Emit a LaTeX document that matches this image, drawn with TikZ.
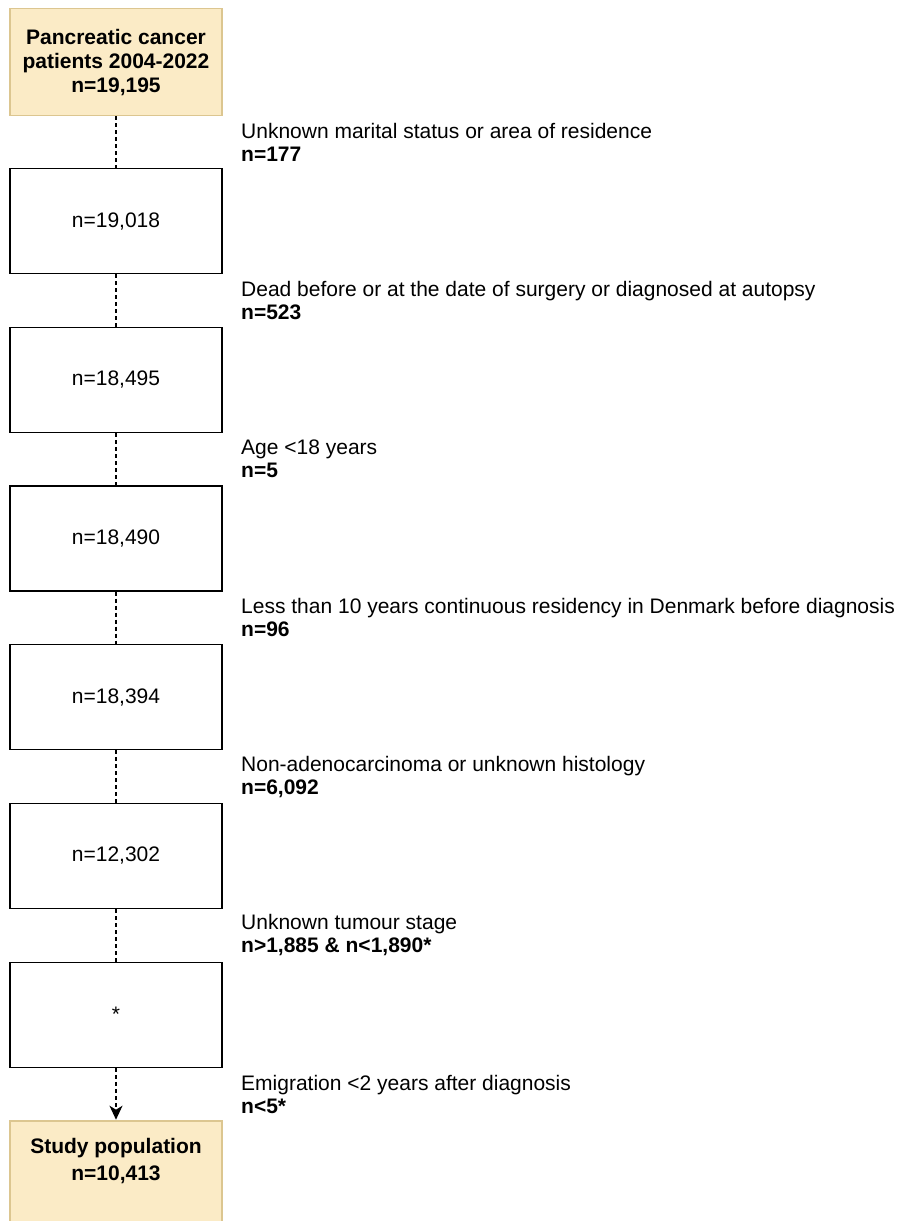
\documentclass[tikz,border=0pt]{standalone}
\usepackage{fontspec}
\setmainfont{Liberation Sans}
\usetikzlibrary{calc,arrows,arrows.meta,positioning}

\definecolor{popfill}{HTML}{FBEBC6}
\definecolor{popdraw}{HTML}{DCC690}

\begin{document}
\begin{tikzpicture}[x=1pt,y=-1pt]

  % Parameters
  \def\wstage{212pt}
  \def\hstage{105pt}
  \def\pitch{158.7}
  \def\xtext{125}

  % Styles
  \tikzstyle{stage}=[draw,line width=1.3pt,anchor=north,minimum width=\wstage,minimum height=\hstage,inner sep=0pt,align=center,font=\fontsize{21}{24}\selectfont]
  \tikzstyle{cohort}=[stage,draw=popdraw,fill=popfill,minimum height=107pt,font=\fontsize{21}{24}\selectfont\bfseries]
  \tikzstyle{excl}=[anchor=west,align=left,inner sep=0pt,font=\fontsize{21}{23}\selectfont]
  \tikzstyle{link}=[line width=1.3pt,dash pattern=on 4pt off 3pt]

  \useasboundingbox (0,0) rectangle (902,1221);

  % Cohort boxes
  \node[cohort] (s0) at (116,8) {Pancreatic cancer\\patients 2004-2022\\n=19,195};
  \node[stage] (s1) at (116,168) {n=19,018};
  \node[stage] (s2) at (116,168+\pitch) {n=18,495};
  \node[stage] (s3) at (116,168+2*\pitch) {n=18,490};
  \node[stage] (s4) at (116,168+3*\pitch) {n=18,394};
  \node[stage] (s5) at (116,168+4*\pitch) {n=12,302};
  \node[stage] (s6) at (116,168+5*\pitch) {*};
  \node[cohort,text depth=30pt,font=\fontsize{21}{27}\selectfont\bfseries] (s7) at (116,168+6*\pitch) {Study population\\n=10,413};

  % Dashed links
  \foreach \a/\b in {s0/s1,s1/s2,s2/s3,s3/s4,s4/s5,s5/s6}
    \draw[link] (\a) -- (\b);
  \draw[link,-{Stealth[length=14pt,width=13pt,inset=4pt]},shorten >=0.5pt] (s6) -- (s7);

  % Exclusions
  \node[excl] (x1) at ($(s0.south)!0.5!(s1.north)+(\xtext,0)$) {Unknown marital status or area of residence\\\textbf{n=177}};
  \node[excl] (x2) at ($(s1.south)!0.5!(s2.north)+(\xtext,0)$) {Dead before or at the date of surgery or diagnosed at autopsy\\\textbf{n=523}};
  \node[excl] (x3) at ($(s2.south)!0.5!(s3.north)+(\xtext,0)$) {Age <18 years\\\textbf{n=5}};
  \node[excl] (x4) at ($(s3.south)!0.5!(s4.north)+(\xtext,0)$) {Less than 10 years continuous residency in Denmark before diagnosis\\\textbf{n=96}};
  \node[excl] (x5) at ($(s4.south)!0.5!(s5.north)+(\xtext,0)$) {Non-adenocarcinoma or unknown histology\\\textbf{n=6,092}};
  \node[excl] (x6) at ($(s5.south)!0.5!(s6.north)+(\xtext,0)$) {Unknown tumour stage\\\textbf{n>1,885 \& n<1,890*}};
  \node[excl] (x7) at ($(s6.south)!0.5!(s7.north)+(\xtext,0)$) {Emigration <2 years after diagnosis\\\textbf{n<5*}};

\end{tikzpicture}
\end{document}
